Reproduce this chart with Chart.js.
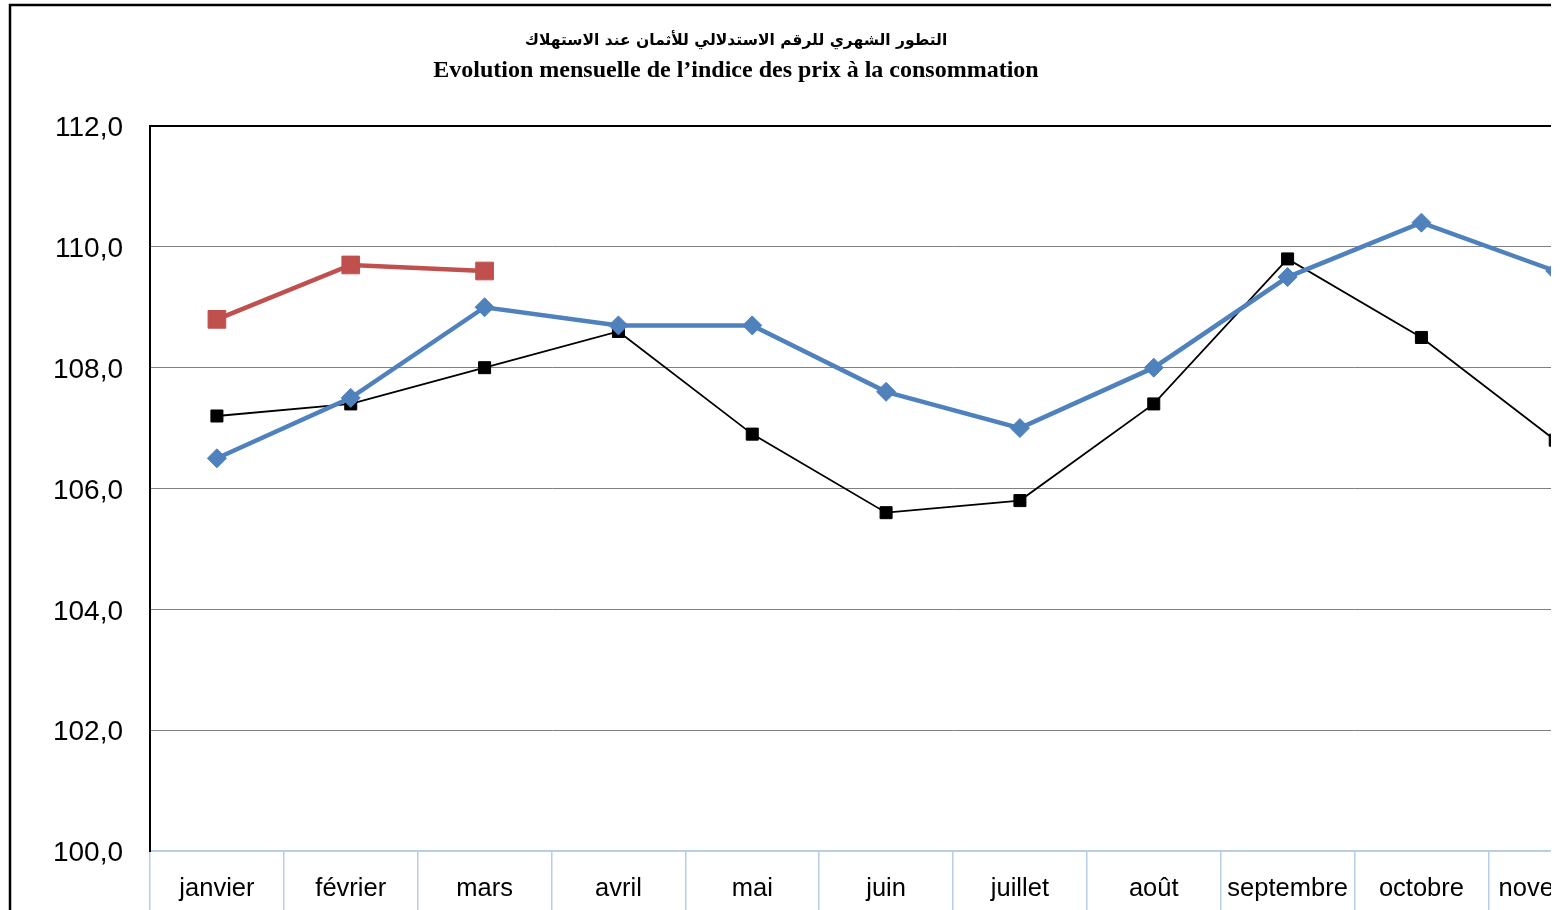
<!DOCTYPE html>
<html>
<head>
<meta charset="utf-8">
<script src="https://cdn.jsdelivr.net/npm/chart.js@4.4.1/dist/chart.umd.min.js"></script>
<style>
    html, body { margin: 0; padding: 0; overflow: hidden; background: #fff; }
    #wrap { position: absolute; left: 0; top: 0; width: 1551px; height: 910px; overflow: hidden; }
</style>
</head>
<body>
<div id="wrap"><canvas id="cpiChart" width="1800" height="910"></canvas></div>
<script>
    // --- données ---
    const months = ['janvier', 'février', 'mars', 'avril', 'mai', 'juin', 'juillet', 'août', 'septembre', 'octobre', 'novembre', 'décembre'];
    const serieN2 = [107.2, 107.4, 108.0, 108.6, 106.9, 105.6, 105.8, 107.4, 109.8, 108.5, 106.8, null];
    const serieN1 = [106.5, 107.5, 109.0, 108.7, 108.7, 107.6, 107.0, 108.0, 109.5, 110.4, 109.6, null];
    const serieN = [108.8, 109.7, 109.6];
    const titleAr = 'التطور الشهري للرقم الاستدلالي للأثمان عند الاستهلاك';
    const titleFr = 'Evolution mensuelle de l\u2019indice des prix à la consommation';

    const axisBlue = '#b9cde5';

    // cadre extérieur + titre sur deux lignes
    const frameAndTitle = {
        id: 'frameAndTitle',
        beforeDraw(chart) {
            const ctx = chart.ctx;
            ctx.save();
            ctx.strokeStyle = '#000';
            ctx.lineWidth = 2.5;
            ctx.strokeRect(10, 5, chart.width - 20, chart.height + 20);
            ctx.restore();
        },
        afterDraw(chart) {
            const ctx = chart.ctx;
            ctx.save();
            ctx.fillStyle = '#000';
            ctx.textAlign = 'center';
            ctx.textBaseline = 'middle';
            ctx.font = 'bold 15.5px "DejaVu Sans"';
            ctx.fillText(titleAr, 736, 41);
            ctx.font = 'bold 24px "Liberation Serif"';
            ctx.fillText(titleFr, 736, 71);
            ctx.restore();
        }
    };

    new Chart(document.getElementById('cpiChart').getContext('2d'), {
        type: 'line',
        data: {
            labels: months,
            datasets: [
                {
                    label: 'N',
                    data: serieN,
                    borderColor: '#c0504d',
                    backgroundColor: '#c0504d',
                    borderWidth: 4.5,
                    pointStyle: 'rect',
                    pointRadius: 12.5,
                    pointBorderWidth: 1,
                    order: 1
                },
                {
                    label: 'N-1',
                    data: serieN1,
                    borderColor: '#4f81bd',
                    backgroundColor: '#4f81bd',
                    borderWidth: 4.5,
                    pointStyle: 'rectRot',
                    pointRadius: 9.5,
                    pointBorderWidth: 1,
                    order: 2
                },
                {
                    label: 'N-2',
                    data: serieN2,
                    borderColor: '#000',
                    backgroundColor: '#000',
                    borderWidth: 1.8,
                    pointStyle: 'rect',
                    pointRadius: 8.5,
                    pointBorderWidth: 1,
                    order: 3
                }
            ]
        },
        options: {
            responsive: false,
            animation: false,
            layout: { padding: { left: 0, top: 126, right: 44, bottom: 0 } },
            plugins: {
                legend: { display: false },
                title: { display: false },
                tooltip: { enabled: false }
            },
            scales: {
                x: {
                    offset: true,
                    grid: {
                        offset: true,
                        drawOnChartArea: false,
                        drawTicks: true,
                        tickLength: 59,
                        tickColor: axisBlue,
                        lineWidth: 1.5
                    },
                    border: { color: axisBlue, width: 2 },
                    ticks: {
                        color: '#000',
                        font: { family: '"Liberation Sans", Arial', size: 25.5 },
                        padding: -36,
                        maxRotation: 0,
                        autoSkip: false
                    },
                    afterFit(scale) { scale.height = 59; }
                },
                y: {
                    min: 100,
                    max: 112,
                    ticks: {
                        stepSize: 2,
                        color: '#000',
                        padding: 27,
                        labelOffset: 2.5,
                        font: { family: '"Liberation Sans", Arial', size: 28 },
                        callback: (v) => v.toFixed(1).replace('.', ',')
                    },
                    grid: {
                        drawTicks: false,
                        color: (c) => c.tick.value === 112 ? '#000' : (c.tick.value === 100 ? 'rgba(0,0,0,0)' : '#808080'),
                        lineWidth: (c) => c.tick.value === 112 ? 2 : 1
                    },
                    border: { color: '#000', width: 2 },
                    afterFit(scale) { scale.width = 150; }
                }
            }
        },
        plugins: [frameAndTitle]
    });
</script>
</body>
</html>
